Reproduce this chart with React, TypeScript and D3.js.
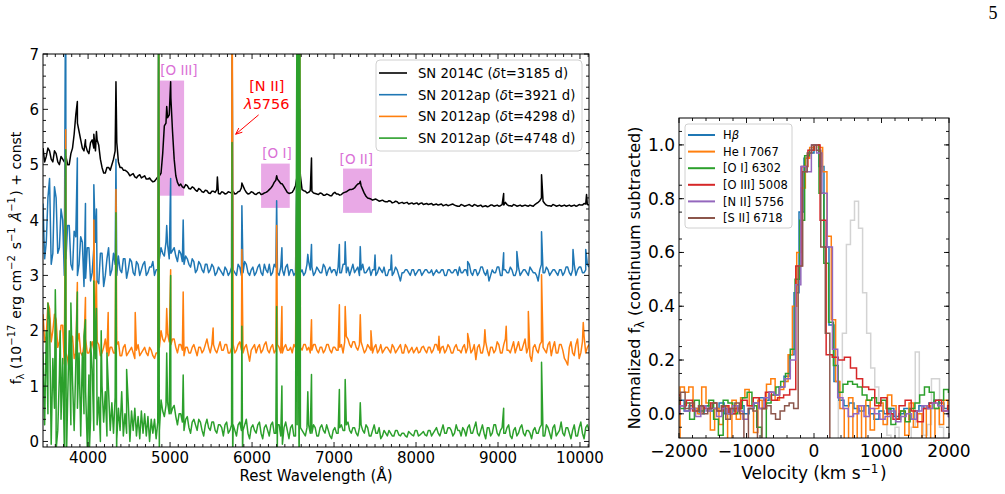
import React from 'react';
import * as d3 from 'd3';

// spectra are sampled every 40 A from 3450 A, plus a second set offset by 20 A
const GRID_START = 3450;
const GRID_STEP = 40;
const MID_OFFSET = 20;

// SN 2014C, dt = 3185 d (offset continuum)
const flux2014C = [
  5.30, 5.15, 5.25, 5.05, 5.20, 5.00, 5.10, 5.15, 5.00, 5.30,
  5.90, 5.60, 5.30, 5.35, 5.20, 5.45, 5.25, 5.35, 4.95, 4.85,
  4.95, 5.00, 5.25, 5.05, 4.95, 4.90, 4.85, 4.82, 4.78, 4.80,
  4.76, 4.80, 4.74, 4.72, 4.70, 4.78, 4.85, 5.70, 5.85, 6.20,
  5.10, 4.68, 4.65, 4.58, 4.62, 4.56, 4.58, 4.52, 4.55, 4.50,
  4.53, 4.48, 4.52, 4.55, 4.47, 4.50, 4.48, 4.50, 4.52, 4.48,
  4.52, 4.62, 4.50, 4.48, 4.50, 4.46, 4.50, 4.47, 4.50, 4.55,
  4.62, 4.72, 4.70, 4.65, 4.55, 4.48, 4.50, 4.62, 5.30, 4.55,
  4.52, 4.50, 4.52, 4.48, 4.46, 4.48, 4.45, 4.46, 4.44, 4.50,
  4.47, 4.46, 4.50, 4.53, 4.55, 4.58, 4.65, 4.62, 4.48, 4.40,
  4.38, 4.37, 4.36, 4.35, 4.34, 4.33, 4.34, 4.32, 4.33, 4.31,
  4.30, 4.32, 4.30, 4.29, 4.31, 4.30, 4.28, 4.30, 4.29, 4.27,
  4.29, 4.28, 4.26, 4.28, 4.27, 4.29, 4.26, 4.25, 4.27, 4.26,
  4.28, 4.25, 4.27, 4.26, 4.24, 4.26, 4.25, 4.27, 4.26, 4.25,
  4.28, 4.32, 4.26, 4.25, 4.27, 4.26, 4.25, 4.27, 4.25, 4.26,
  4.28, 4.32, 4.40, 4.30, 4.26, 4.25, 4.27, 4.26, 4.25, 4.27,
  4.26, 4.25, 4.27, 4.26, 4.27, 4.30, 4.28,
];
const flux2014CMid = [
  5.05, 5.30, 5.10, 5.25, 5.05, 5.15, 5.05, 5.00, 5.20, 5.55,
  5.75, 5.45, 5.25, 5.25, 5.40, 5.30, 5.45, 5.10, 4.85, 4.95,
  4.90, 5.10, 5.40, 4.95, 4.90, 4.88, 4.80, 4.84, 4.76, 4.82,
  4.78, 4.74, 4.76, 4.69, 4.74, 4.80, 5.20, 5.75, 5.90, 5.60,
  4.80, 4.62, 4.60, 4.64, 4.57, 4.60, 4.54, 4.57, 4.51, 4.54,
  4.49, 4.52, 4.50, 4.48, 4.51, 4.47, 4.51, 4.49, 4.47, 4.51,
  4.58, 4.55, 4.47, 4.51, 4.47, 4.49, 4.46, 4.49, 4.52, 4.58,
  4.68, 4.74, 4.66, 4.60, 4.50, 4.49, 4.55, 4.80, 4.80, 4.53,
  4.49, 4.53, 4.49, 4.47, 4.49, 4.45, 4.47, 4.44, 4.48, 4.47,
  4.45, 4.49, 4.51, 4.55, 4.56, 4.62, 4.66, 4.55, 4.43, 4.39,
  4.36, 4.38, 4.34, 4.36, 4.33, 4.35, 4.31, 4.34, 4.30, 4.32,
  4.31, 4.29, 4.31, 4.30, 4.28, 4.31, 4.29, 4.28, 4.30, 4.28,
  4.27, 4.29, 4.27, 4.26, 4.28, 4.27, 4.25, 4.28, 4.25, 4.27,
  4.26, 4.28, 4.25, 4.27, 4.25, 4.24, 4.27, 4.25, 4.27, 4.26,
  4.27, 4.28, 4.26, 4.28, 4.25, 4.27, 4.26, 4.26, 4.27, 4.25,
  4.30, 4.35, 4.34, 4.27, 4.26, 4.28, 4.25, 4.27, 4.26, 4.25,
  4.27, 4.26, 4.25, 4.28, 4.27, 4.29, 4.27,
];

// SN 2012ap, dt = 3921 d
const flux3921 = [
  4.30, 3.60, 4.75, 3.40, 4.40, 3.50, 4.00, 3.30, 3.90, 3.10,
  3.70, 3.20, 3.60, 2.95, 3.50, 3.05, 3.60, 2.85, 3.40, 3.00,
  3.50, 3.10, 3.20, 3.35, 3.05, 3.30, 3.10, 3.25, 3.00, 3.20,
  3.10, 3.25, 3.05, 3.15, 3.00, 3.10, 3.50, 3.35, 3.55, 3.40,
  3.50, 3.25, 3.40, 3.20, 3.30, 3.15, 3.25, 3.10, 3.20, 3.05,
  3.20, 3.10, 3.15, 3.05, 3.10, 3.00, 3.10, 3.05, 3.10, 3.00,
  3.15, 3.05, 3.20, 3.00, 3.15, 3.05, 3.20, 3.00, 3.10, 3.20,
  3.05, 3.15, 3.00, 3.10, 3.15, 3.00, 3.10, 3.05, 3.20, 3.10,
  3.05, 3.25, 3.15, 3.05, 3.10, 3.05, 3.15, 3.10, 3.05, 3.10,
  3.15, 3.05, 3.20, 3.15, 3.10, 3.05, 3.15, 3.10, 3.05, 3.10,
  3.00, 3.10, 3.05, 3.10, 3.15, 3.00, 3.10, 3.05, 3.10, 2.90,
  3.05, 3.10, 3.00, 3.10, 3.05, 3.10, 3.05, 3.10, 3.05, 3.00,
  3.10, 3.05, 3.10, 3.00, 3.10, 3.05, 3.10, 3.15, 3.05, 3.10,
  3.20, 3.00, 3.10, 3.05, 3.15, 3.00, 2.90, 3.10, 3.05, 3.15,
  3.00, 3.10, 3.05, 3.10, 3.00, 3.15, 3.05, 3.10, 3.00, 3.10,
  3.05, 2.90, 3.20, 3.05, 3.10, 3.05, 3.10, 3.00, 3.10, 3.05,
  3.15, 3.00, 3.20, 3.10, 3.15, 3.05, 3.20,
];
const flux3921Mid = [
  3.30, 4.40, 3.20, 4.60, 3.40, 4.20, 3.00, 3.90, 3.20, 3.80,
  3.00, 3.70, 2.80, 3.50, 2.90, 3.50, 2.90, 3.40, 2.80, 3.30,
  3.00, 3.40, 3.00, 3.10, 3.30, 2.95, 3.30, 3.05, 3.25, 3.00,
  3.20, 3.00, 3.15, 3.25, 3.10, 3.30, 3.40, 3.60, 3.30, 3.45,
  3.35, 3.45, 3.25, 3.35, 3.20, 3.30, 3.05, 3.25, 3.10, 3.20,
  3.05, 3.20, 3.00, 3.15, 3.05, 3.15, 3.00, 3.15, 3.05, 3.20,
  3.00, 3.25, 3.05, 3.10, 3.00, 3.15, 3.05, 3.20, 3.05, 3.00,
  3.20, 3.05, 3.15, 3.00, 3.20, 3.10, 3.00, 3.15, 3.05, 3.00,
  3.20, 3.10, 3.00, 3.15, 3.05, 3.20, 3.00, 3.15, 3.10, 3.00,
  3.05, 3.20, 3.05, 3.00, 3.20, 3.10, 3.00, 3.20, 3.05, 3.15,
  3.10, 3.00, 3.15, 3.05, 3.00, 3.10, 3.00, 3.15, 3.00, 3.05,
  3.10, 3.05, 3.10, 3.00, 3.10, 3.00, 3.10, 3.05, 3.10, 3.05,
  3.05, 3.10, 3.00, 3.10, 3.05, 3.10, 3.00, 3.05, 3.10, 3.00,
  3.05, 3.10, 3.00, 3.15, 3.05, 3.10, 3.00, 3.05, 3.15, 3.00,
  3.10, 3.05, 3.15, 3.00, 3.10, 3.00, 3.10, 3.05, 3.15, 3.05,
  3.00, 3.10, 3.05, 3.15, 3.00, 3.10, 3.05, 3.10, 3.00, 3.15,
  3.05, 3.10, 3.00, 3.15, 3.05, 3.10, 3.15,
];

// SN 2012ap, dt = 4298 d
const flux4298 = [
  2.30, 1.90, 2.40, 2.00, 2.20, 1.80, 2.10, 1.60, 1.30, 1.90,
  1.60, 1.95, 1.55, 1.85, 1.60, 1.80, 1.55, 1.75, 1.60, 1.85,
  1.55, 1.70, 1.60, 1.80, 1.55, 1.75, 1.60, 1.70, 1.50, 1.75,
  1.60, 1.70, 1.55, 1.65, 1.50, 1.60, 2.00, 1.80, 1.95, 1.75,
  1.85, 1.60, 1.75, 1.55, 1.70, 1.60, 1.75, 1.55, 1.70, 1.65,
  1.85, 1.60, 1.75, 1.60, 1.80, 1.65, 1.75, 1.60, 1.75, 1.65,
  1.80, 1.60, 1.75, 1.45, 1.70, 1.60, 1.75, 1.65, 1.80, 1.60,
  1.75, 1.65, 1.70, 1.60, 1.75, 1.65, 1.60, 1.70, 1.80, 1.65,
  1.75, 1.70, 1.65, 1.75, 1.60, 1.70, 1.65, 1.75, 1.60, 1.70,
  1.65, 1.75, 1.80, 1.85, 1.70, 1.80, 1.65, 1.80, 1.60, 1.75,
  1.65, 1.70, 1.60, 1.75, 1.65, 1.70, 1.60, 1.70, 1.65, 1.75,
  1.60, 1.70, 1.65, 1.60, 1.70, 1.62, 1.72, 1.60, 1.70, 1.65,
  1.75, 1.60, 1.72, 1.65, 1.70, 1.60, 1.75, 1.65, 1.70, 1.60,
  1.80, 1.65, 1.48, 1.75, 1.60, 1.80, 1.55, 1.70, 1.65, 1.75,
  1.60, 1.85, 1.65, 1.70, 1.60, 1.80, 1.65, 1.85, 1.70, 1.45,
  1.75, 1.60, 1.80, 1.65, 1.75, 1.55, 1.80, 1.60, 1.75, 1.50,
  1.38, 1.80, 1.55, 1.85, 1.60, 1.90, 1.70,
];
const flux4298Mid = [
  1.80, 2.50, 1.80, 2.30, 1.70, 2.10, 1.40, 1.50, 1.75, 1.50,
  1.80, 1.60, 1.75, 1.60, 1.70, 1.65, 1.80, 1.55, 1.70, 1.60,
  1.70, 1.60, 1.75, 1.55, 1.70, 1.55, 1.65, 1.60, 1.65, 1.55,
  1.65, 1.60, 1.70, 1.55, 1.60, 1.70, 1.85, 1.90, 1.80, 1.85,
  1.70, 1.75, 1.65, 1.70, 1.60, 1.70, 1.65, 1.70, 1.60, 1.75,
  1.70, 1.75, 1.65, 1.70, 1.65, 1.75, 1.60, 1.70, 1.60, 1.75,
  1.65, 1.70, 1.60, 1.65, 1.75, 1.70, 1.60, 1.75, 1.65, 1.70,
  1.60, 1.75, 1.60, 1.70, 1.65, 1.70, 1.75, 1.65, 1.70, 1.75,
  1.65, 1.60, 1.75, 1.65, 1.70, 1.60, 1.75, 1.65, 1.70, 1.65,
  1.70, 1.60, 1.90, 1.75, 1.80, 1.70, 1.75, 1.70, 1.65, 1.70,
  1.60, 1.75, 1.65, 1.60, 1.70, 1.65, 1.75, 1.60, 1.70, 1.60,
  1.75, 1.60, 1.70, 1.65, 1.60, 1.70, 1.65, 1.70, 1.60, 1.75,
  1.65, 1.70, 1.60, 1.75, 1.60, 1.70, 1.65, 1.60, 1.75, 1.70,
  1.60, 1.75, 1.70, 1.60, 1.75, 1.65, 1.70, 1.60, 1.80, 1.60,
  1.75, 1.65, 1.60, 1.80, 1.70, 1.65, 1.75, 1.60, 1.55, 1.70,
  1.65, 1.75, 1.70, 1.60, 1.80, 1.70, 1.60, 1.75, 1.65, 1.45,
  1.70, 1.60, 1.75, 1.50, 1.80, 1.60, 1.75,
];

// SN 2012ap, dt = 4748 d
const flux4748 = [
  1.60, 2.00, 2.20, 1.50, 1.80, 1.20, 1.50, 1.90, 2.00, 1.10,
  1.40, 1.60, 1.60, 0.90, 1.20, 1.30, 1.50, 0.80, 1.00, 0.90,
  0.90, 0.70, 0.80, 0.60, 0.90, 0.50, 0.70, 0.55, 0.60, 0.45,
  0.55, 0.50, 0.45, 0.40, 0.40, 0.35, 0.75, 0.45, 0.70, 0.50,
  0.65, 0.30, 0.50, 0.20, 0.45, 0.15, 0.40, 0.20, 0.35, 0.10,
  0.40, 0.20, 0.35, 0.15, 0.30, 0.10, 0.35, 0.20, 0.30, 0.10,
  0.35, 0.20, 0.40, 0.05, 0.30, 0.15, 0.35, 0.05, 0.30, 0.10,
  0.35, 0.15, 0.30, -0.05, 0.35, 0.05, 0.30, 0.10, 0.50, 0.20,
  0.10, 0.30, 0.15, 0.25, 0.10, 0.30, 0.15, 0.20, 0.05, 0.25,
  0.15, 0.30, 0.20, 0.35, 0.15, 0.25, 0.10, 0.30, 0.15, 0.25,
  0.10, 0.30, 0.15, 0.05, 0.20, 0.10, 0.15, 0.10, 0.20, 0.10,
  0.15, 0.08, 0.15, 0.10, 0.20, 0.12, 0.18, 0.10, 0.20, 0.15,
  0.25, 0.10, 0.30, 0.15, 0.25, 0.10, 0.30, 0.20, 0.25, 0.10,
  0.30, 0.15, 0.35, 0.10, 0.30, 0.05, 0.25, 0.15, 0.30, 0.10,
  0.25, 0.15, 0.30, 0.05, 0.25, 0.15, 0.30, 0.10, 0.20, 0.05,
  0.25, 0.15, 0.30, 0.10, 0.25, 0.05, 0.30, 0.15, 0.35, 0.10,
  0.25, 0.05, 0.30, 0.10, 0.35, 0.05, 0.30,
];
const flux4748Mid = [
  0.30, 0.50, -0.05, 0.60, 0.20, 0.40, -0.10, 0.70, 0.30, 0.20,
  0.60, 0.10, 0.50, -0.10, 0.40, 0.20, 0.30, 0.00, 0.35, 0.10,
  0.20, 0.15, 0.05, 0.20, 0.10, 0.15, 0.00, 0.20, 0.10, 0.05,
  0.15, 0.10, 0.00, 0.15, 0.05, 0.20, 0.55, 0.65, 0.50, 0.60,
  0.45, 0.50, 0.35, 0.40, 0.25, 0.35, 0.30, 0.40, 0.20, 0.30,
  0.25, 0.35, 0.20, 0.30, 0.25, 0.30, 0.15, 0.30, 0.20, 0.30,
  0.20, 0.30, 0.15, 0.25, 0.20, 0.30, 0.15, 0.25, 0.20, 0.30,
  0.15, 0.30, 0.10, 0.25, 0.20, 0.25, 0.10, 0.30, 0.25, 0.15,
  0.25, 0.15, 0.30, 0.10, 0.25, 0.20, 0.30, 0.10, 0.20, 0.15,
  0.25, 0.20, 0.30, 0.20, 0.25, 0.15, 0.25, 0.20, 0.30, 0.10,
  0.20, 0.15, 0.25, 0.10, 0.15, 0.20, 0.10, 0.20, 0.12, 0.15,
  0.10, 0.18, 0.12, 0.20, 0.10, 0.15, 0.12, 0.20, 0.10, 0.20,
  0.15, 0.20, 0.15, 0.25, 0.20, 0.15, 0.20, 0.10, 0.20, 0.25,
  0.15, 0.25, 0.15, 0.20, 0.15, 0.25, 0.10, 0.30, 0.15, 0.20,
  0.15, 0.25, 0.10, 0.20, 0.10, 0.25, 0.15, 0.20, 0.15, 0.20,
  0.15, 0.25, 0.10, 0.30, 0.15, 0.25, 0.10, 0.20, 0.15, 0.25,
  0.15, 0.20, 0.10, 0.25, 0.15, 0.25, 0.20,
];

// narrow emission lines / residuals: [wavelength, flux]
const lines2014C = [
  [3869, 6.14], [3968, 5.45], [4070, 5.55], [4102, 5.6], [4340, 6.5],
  [4959, 6.05], [5007, 6.5], [5577, 4.78], [5876, 4.67], [6300, 4.8],
  [6563, 5.6], [6725, 5.12], [7320, 4.7], [9069, 4.48], [9531, 4.82], [10080, 4.46],
];
const lines3921 = [
  [3727, 9.0], [3869, 5.12], [3968, 4.3], [4070, 4.64], [4102, 4.2],
  [4340, 5.1], [4861, 8.0], [4959, 3.9], [5007, 4.75], [5160, 4.0],
  [5756, 7.5], [5876, 4.26], [6300, 4.35], [6364, 3.5], [6548, 5.0],
  [6563, 8.0], [6583, 6.0], [6680, 3.38], [6725, 3.56], [7065, 3.56],
  [7136, 3.61], [7320, 3.52], [7500, 3.37], [7700, 3.37], [8630, 3.25],
  [9069, 3.41], [9230, 3.43], [9531, 3.79], [9915, 3.47], [10070, 3.47],
];
const lines4298 = [
  [3727, 5.63], [3869, 2.87], [3968, 2.6], [4070, 4.0], [4102, 2.9],
  [4245, 2.33], [4340, 4.55], [4575, 2.33], [4861, 8.0], [4959, 2.4],
  [5007, 3.1], [5160, 2.7], [5525, 2.05], [5756, 9.0], [5876, 3.47],
  [6300, 3.9], [6364, 2.44], [6548, 5.0], [6563, 9.0], [6583, 7.0],
  [6725, 2.2], [7065, 2.47], [7136, 2.44], [7320, 2.29], [7450, 2.0],
  [8280, 1.9], [8630, 1.95], [8840, 2.02], [9100, 2.08], [9370, 2.35],
  [9531, 3.01], [10040, 2.15],
];
const lines4748 = [
  [3510, 2.5], [3600, 2.74], [3610, -0.15], [3660, 2.0], [3727, 5.27],
  [3735, -0.4], [3790, 2.5], [3869, 2.7], [3950, 1.9], [3968, 2.2],
  [4015, -0.2], [4030, 1.8], [4070, 2.9], [4102, 2.4], [4160, 2.0],
  [4230, 1.6], [4340, 4.13], [4348, -0.3], [4470, 1.3], [4861, 9.0],
  [4869, -0.5], [4959, 1.6], [5007, 3.0], [5160, 1.2], [5756, 5.4],
  [5764, -0.3], [5876, 2.08], [5884, -0.2], [6300, 2.44], [6308, -0.2],
  [6364, 1.0], [6548, 8.0], [6563, 12.0], [6575, -0.5], [6583, 9.0],
  [6680, 0.9], [6725, 1.21], [7065, 0.94], [7136, 1.12], [7320, 0.7],
  [9069, 0.6], [9531, 1.43],
];

const spectra = [
  { label: 'SN 2014C', dt: 3185, color: '#000000', flux: flux2014C, mid: flux2014CMid, lines: lines2014C },
  { label: 'SN 2012ap', dt: 3921, color: '#1f77b4', flux: flux3921, mid: flux3921Mid, lines: lines3921 },
  { label: 'SN 2012ap', dt: 4298, color: '#ff7f0e', flux: flux4298, mid: flux4298Mid, lines: lines4298 },
  { label: 'SN 2012ap', dt: 4748, color: '#2ca02c', flux: flux4748, mid: flux4748Mid, lines: lines4748 },
];

// shaded line regions: [lambda0, lambda1, f0, f1]
const regions = [
  { name: '[O III]', box: [4866, 5171, 4.44, 6.52], text: [5108, 6.62] },
  { name: '[O I]', box: [6110, 6460, 4.22, 5.02], text: [6305, 5.12] },
  { name: '[O II]', box: [7110, 7463, 4.13, 4.93], text: [7272, 5.01] },
];

// velocity profiles, each on its own bin grid: start, bin width, values
const profileHb = { v0: -2035, dv: 74, vals: [
  0.03, 0.05, 0.01, 0.03, 0.02, 0.00, 0.03, 0.01, 0.02, 0.04,
  0.00, 0.02, 0.01, 0.03, 0.00, 0.02, 0.04, 0.06, 0.05, 0.08,
  0.07, 0.10, 0.14, 0.22, 0.45, 0.75, 0.95, 0.97, 1.00, 0.92,
  0.62, 0.33, 0.12, 0.05, 0.03, 0.04, 0.02, 0.01, 0.03, 0.00,
  -0.02, 0.01, 0.00, 0.02, -0.01, 0.00, 0.02, -0.02, 0.01, 0.03,
  0.02, 0.04, 0.05, 0.04, 0.02, -0.01,
] };
const profileHeI = { v0: -2016, dv: 64, vals: [
  -0.12, 0.10, 0.08, 0.10, 0.02, 0.00, 0.10, 0.04, -0.06, 0.02,
  -0.04, 0.03, -0.12, 0.05, -0.02, 0.06, 0.09, 0.03, -0.07, 0.05,
  0.02, 0.11, 0.13, 0.05, 0.09, 0.12, 0.22, 0.40, 0.60, 0.84,
  0.95, 0.99, 1.00, 0.99, 0.90, 0.66, 0.35, 0.12, 0.02, -0.12,
  0.06, -0.10, 0.03, -0.11, 0.05, -0.06, 0.02, 0.04, -0.04, 0.07,
  0.03, -0.02, 0.01, -0.08, 0.04, -0.05, 0.00, -0.12, 0.03, -0.12,
  0.02, -0.04, 0.05, 0.02,
] };
const profileOI = { v0: -2020, dv: 71, vals: [
  0.06, 0.02, 0.04, -0.02, 0.05, 0.01, 0.03, 0.05, -0.02, -0.08,
  0.05, 0.04, 0.00, 0.02, 0.06, 0.08, 0.03, -0.05, -0.12, 0.04,
  0.07, 0.10, 0.12, 0.15, 0.24, 0.50, 0.72, 0.96, 0.98, 1.00,
  0.82, 0.56, 0.34, 0.18, 0.08, 0.11, 0.12, 0.11, 0.10, 0.07,
  0.05, 0.06, 0.04, 0.05, 0.02, -0.04, -0.02, 0.01, -0.03, 0.02,
  0.04, 0.07, 0.10, 0.08, 0.02, 0.05, 0.09, 0.08,
] };
const profileOIII = { v0: -2025, dv: 90, vals: [
  0.07, 0.03, 0.05, 0.01, 0.03, 0.02, 0.04, 0.01, 0.03, 0.00,
  0.02, 0.05, 0.03, 0.06, 0.02, 0.08, 0.05, 0.06, 0.07, 0.09,
  0.55, 0.92, 0.98, 1.00, 0.72, 0.22, 0.21, 0.20, 0.21, 0.17,
  0.13, 0.10, 0.09, 0.03, 0.06, 0.00, -0.02, 0.03, 0.05, 0.01,
  -0.03, 0.02, 0.04, 0.05, 0.01, 0.03,
] };
const profileNII = { v0: -2028, dv: 78, vals: [
  0.00, 0.03, 0.01, 0.02, -0.01, 0.03, 0.01, 0.02, -0.01, 0.02,
  0.00, 0.03, 0.01, -0.02, 0.02, 0.04, 0.02, 0.06, 0.08, 0.07,
  0.10, 0.13, 0.20, 0.48, 0.92, 0.90, 1.00, 0.97, 0.82, 0.62,
  0.24, 0.06, 0.02, -0.01, 0.00, 0.03, -0.01, 0.02, 0.00, -0.02,
  -0.01, 0.01, -0.03, -0.01, 0.00, -0.02, 0.01, 0.03, 0.02, 0.04,
  0.03, 0.01, -0.01,
] };
const profileSII = { v0: -2010, dv: 67, vals: [
  0.05, 0.08, 0.02, 0.04, 0.01, 0.03, 0.00, 0.02, 0.04, 0.01,
  0.03, -0.02, 0.02, 0.04, 0.00, -0.12, 0.02, 0.01, -0.12, 0.02,
  0.03, 0.00, -0.02, 0.01, 0.03, 0.04, 0.02, 0.55, 0.90, 0.97,
  1.00, 0.98, 0.62, 0.30, -0.15, -0.20,
] };
// neighbouring line on the red side, shown in grey
const profileRed = { v0: 330, dv: 60, vals: [
  -0.15, 0.05, 0.30, 0.63, 0.72, 0.79, 0.69, 0.45, 0.30, 0.17,
  0.10, 0.03, -0.02, -0.08, -0.12, -0.05, -0.15, -0.10, -0.12, -0.05,
  0.23, 0.00, -0.08, -0.04, 0.13, 0.13, -0.05, -0.12, -0.10,
] };

const profiles = [
  { name: 'Hb', color: '#1f77b4', p: profileHb },
  { name: 'He I 7067', color: '#ff7f0e', p: profileHeI },
  { name: '[O I] 6302', color: '#2ca02c', p: profileOI },
  { name: '[O III] 5008', color: '#d62728', p: profileOIII },
  { name: '[N II] 5756', color: '#9467bd', p: profileNII },
  { name: '[S II] 6718', color: '#8c564b', p: profileSII },
];

const FONT = 'DejaVu Sans, sans-serif';
const L = { x0: 43, x1: 589, y0: 54, y1: 447 };
const R = { x0: 679, x1: 949, y0: 118, y1: 438 };

const buildSpectrum = (flux: number[], mid: number[], lines: number[][]) =>
  flux
    .map((f, i) => [GRID_START + i * GRID_STEP, f])
    .concat(mid.map((f, i) => [GRID_START + MID_OFFSET + i * GRID_STEP, f]))
    .concat(lines)
    .filter((d) => d[0] <= 10110)
    .sort((a, b) => a[0] - b[0]);

const buildProfile = (p: { v0: number; dv: number; vals: number[] }) =>
  p.vals.map((f, i) => [p.v0 + i * p.dv, f]);

const Ticks = ({ xs, ys, box, xMajor, xMinor, yMajor, yMinor }: any) => {
  const t: any[] = [];
  const add = (k: string, x1: number, y1: number, x2: number, y2: number) =>
    t.push(<line key={k} x1={x1} y1={y1} x2={x2} y2={y2} stroke="#000" strokeWidth={0.9} />);
  xMajor.forEach((v: number) => {
    const x = xs(v);
    add(`xb${v}`, x, box.y1, x, box.y1 - 5);
    add(`xt${v}`, x, box.y0, x, box.y0 + 5);
  });
  xMinor.forEach((v: number) => {
    const x = xs(v);
    add(`xbm${v}`, x, box.y1, x, box.y1 - 3);
    add(`xtm${v}`, x, box.y0, x, box.y0 + 3);
  });
  yMajor.forEach((v: number) => {
    const y = ys(v);
    add(`yl${v}`, box.x0, y, box.x0 + 5, y);
    add(`yr${v}`, box.x1, y, box.x1 - 5, y);
  });
  yMinor.forEach((v: number) => {
    const y = ys(v);
    add(`ylm${v}`, box.x0, y, box.x0 + 3, y);
    add(`yrm${v}`, box.x1, y, box.x1 - 3, y);
  });
  return <g>{t}</g>;
};

const Sup = ({ children, size }: any) => (
  <>
    <tspan dy={-6} fontSize={size}>{children}</tspan>
    <tspan dy={6}>{'\u200a'}</tspan>
  </>
);

export default function App() {
  const xL = d3.scaleLinear().domain([3450, 10110]).range([L.x0, L.x1]);
  const yL = d3.scaleLinear().domain([-0.1, 7]).range([L.y1, L.y0]);
  const xR = d3.scaleLinear().domain([-2000, 2000]).range([R.x0, R.x1]);
  const yR = d3.scaleLinear().domain([-0.09, 1.1]).range([R.y1, R.y0]);

  const specLine = d3.line<number[]>().x((d) => xL(d[0])).y((d) => yL(d[1]));
  const stepLine = d3
    .line<number[]>()
    .x((d) => xR(d[0]))
    .y((d) => yR(d[1]))
    .curve(d3.curveStep);

  const xMajL = d3.range(4000, 10001, 1000);
  const xMinL = d3.range(3500, 10101, 100).filter((v) => v % 1000 !== 0);
  const yMajL = d3.range(0, 8, 1);
  const yMinL = d3.range(0, 35).map((i) => i * 0.2).filter((_, i) => i % 5 !== 0);
  const xMajR = d3.range(-2000, 2001, 1000);
  const xMinR = d3.range(-2000, 2001, 200).filter((v) => v % 1000 !== 0);
  const yMajR = [0, 0.2, 0.4, 0.6, 0.8, 1.0];
  const yMinR = d3.range(-1, 22).map((i) => i * 0.05).filter((_, i) => (i + 1) % 4 !== 0);

  const nii = { at: [5800, 5.55], from: [6080, 5.9] };
  const ax0 = xL(nii.from[0]);
  const ay0 = yL(nii.from[1]);
  const ax1 = xL(nii.at[0]);
  const ay1 = yL(nii.at[1]);
  const ang = Math.atan2(ay1 - ay0, ax1 - ax0);
  const head = (da: number) => `${ax1 - 7 * Math.cos(ang + da)},${ay1 - 7 * Math.sin(ang + da)}`;

  return (
    <svg width={1005} height={494} style={{ display: 'block', position: 'absolute', left: 0, top: 0 }}>
      <rect width={1005} height={494} fill="#fff" />
      <text x={993} y={19} fontFamily="Liberation Serif, serif" fontSize={18} textAnchor="middle">5</text>

      <defs>
        <clipPath id="clipL"><rect x={L.x0} y={L.y0} width={L.x1 - L.x0} height={L.y1 - L.y0} /></clipPath>
        <clipPath id="clipR"><rect x={R.x0} y={R.y0} width={R.x1 - R.x0} height={R.y1 - R.y0} /></clipPath>
      </defs>

      {/* left panel: late-time spectra */}
      <g clipPath="url(#clipL)">
        {regions.map((r) => (
          <rect key={r.name} x={xL(r.box[0])} y={yL(r.box[3])} width={xL(r.box[1]) - xL(r.box[0])}
            height={yL(r.box[2]) - yL(r.box[3])} fill="orchid" fillOpacity={0.6} />
        ))}
        {spectra.map((s) => (
          <path key={s.dt} d={specLine(buildSpectrum(s.flux, s.mid, s.lines)) || ''} fill="none"
            stroke={s.color} strokeWidth={1.5} strokeLinejoin="round" />
        ))}
      </g>
      {regions.map((r) => (
        <text key={r.name} x={xL(r.text[0])} y={yL(r.text[1])} textAnchor="middle" fontFamily={FONT}
          fontSize={13.5} fill="orchid">{r.name}</text>
      ))}
      <text x={xL(6180)} y={91} textAnchor="middle" fontFamily={FONT} fontSize={14.5} fill="red">[N II]</text>
      <text x={xL(6180)} y={109} textAnchor="middle" fontFamily={FONT} fontSize={14.5} fill="red">
        <tspan fontStyle="italic">λ</tspan>5756
      </text>
      <path d={`M${ax0},${ay0}L${ax1},${ay1}M${head(0.4)}L${ax1},${ay1}L${head(-0.4)}`} fill="none"
        stroke="red" strokeWidth={1} />

      <rect x={L.x0} y={L.y0} width={L.x1 - L.x0} height={L.y1 - L.y0} fill="none" stroke="#000" strokeWidth={1} />
      <Ticks xs={xL} ys={yL} box={L} xMajor={xMajL} xMinor={xMinL} yMajor={yMajL} yMinor={yMinL} />
      {xMajL.map((v) => (
        <text key={v} x={xL(v)} y={L.y1 + 16} textAnchor="middle" fontFamily={FONT} fontSize={15}>{v}</text>
      ))}
      {yMajL.map((v) => (
        <text key={v} x={L.x0 - 4} y={yL(v) + 5.5} textAnchor="end" fontFamily={FONT} fontSize={15}>{v}</text>
      ))}
      <text x={(L.x0 + L.x1) / 2} y={481} textAnchor="middle" fontFamily={FONT} fontSize={15}>
        Rest Wavelength (Å)
      </text>
      <text transform="translate(21,258) rotate(-90)" textAnchor="middle" fontFamily={FONT} fontSize={14}>
        f<tspan dy={3} fontSize={10}>λ</tspan><tspan dy={-3}> (10</tspan>
        <Sup size={10}>−17</Sup> erg cm<Sup size={10}>−2</Sup> s<Sup size={10}>−1</Sup>
        {' '}<tspan fontStyle="italic">Å</tspan><Sup size={10}>−1</Sup>) + const
      </text>

      <g>
        <rect x={376} y={60} width={206} height={91} rx={4} fill="#fff" fillOpacity={0.8} stroke="#d0d0d0" />
        {spectra.map((s, i) => {
          const y = 73 + i * 21.7;
          return (
            <g key={s.dt}>
              <line x1={379} x2={407} y1={y} y2={y} stroke={s.color} strokeWidth={1.6} />
              <text x={418} y={y + 4.8} fontFamily={FONT} fontSize={13.2}>
                {s.label} (<tspan fontStyle="italic">δ</tspan>t={s.dt} d)
              </text>
            </g>
          );
        })}
      </g>

      {/* right panel: normalised line profiles */}
      <g clipPath="url(#clipR)">
        <path d={stepLine(buildProfile(profileRed)) || ''} fill="none" stroke="#d3d3d3" strokeWidth={1.5} />
        {profiles.map((p) => (
          <path key={p.name} d={stepLine(buildProfile(p.p)) || ''} fill="none" stroke={p.color} strokeWidth={1.5} />
        ))}
      </g>
      <rect x={R.x0} y={R.y0} width={R.x1 - R.x0} height={R.y1 - R.y0} fill="none" stroke="#000" strokeWidth={1} />
      <Ticks xs={xR} ys={yR} box={R} xMajor={xMajR} xMinor={xMinR} yMajor={yMajR} yMinor={yMinR} />
      {xMajR.map((v) => (
        <text key={v} x={xR(v)} y={R.y1 + 19} textAnchor="middle" fontFamily={FONT} fontSize={17}>
          {v < 0 ? `−${-v}` : v}
        </text>
      ))}
      {yMajR.map((v) => (
        <text key={v} x={R.x0 - 4} y={yR(v) + 6} textAnchor="end" fontFamily={FONT} fontSize={17}>{v.toFixed(1)}</text>
      ))}
      <text x={(R.x0 + R.x1) / 2} y={479} textAnchor="middle" fontFamily={FONT} fontSize={17}>
        Velocity (km s<Sup size={12}>−1</Sup>)
      </text>
      <text transform={`translate(640,${(R.y0 + R.y1) / 2}) rotate(-90)`} textAnchor="middle" fontFamily={FONT} fontSize={16}>
        Normalized f<tspan dy={4} fontSize={11.5}>λ</tspan><tspan dy={-4}> (continuum subtracted)</tspan>
      </text>

      <g>
        <rect x={685} y={124} width={107} height={104} rx={3} fill="#fff" fillOpacity={0.8} stroke="#d0d0d0" />
        {profiles.map((p, i) => {
          const y = 135 + i * 16.6;
          return (
            <g key={p.name}>
              <line x1={688} x2={715} y1={y} y2={y} stroke={p.color} strokeWidth={2} />
              <text x={723} y={y + 4.2} fontFamily={FONT} fontSize={11.5}>
                {p.name === 'Hb' ? <>H<tspan fontStyle="italic">β</tspan></> : p.name}
              </text>
            </g>
          );
        })}
      </g>
    </svg>
  );
}
